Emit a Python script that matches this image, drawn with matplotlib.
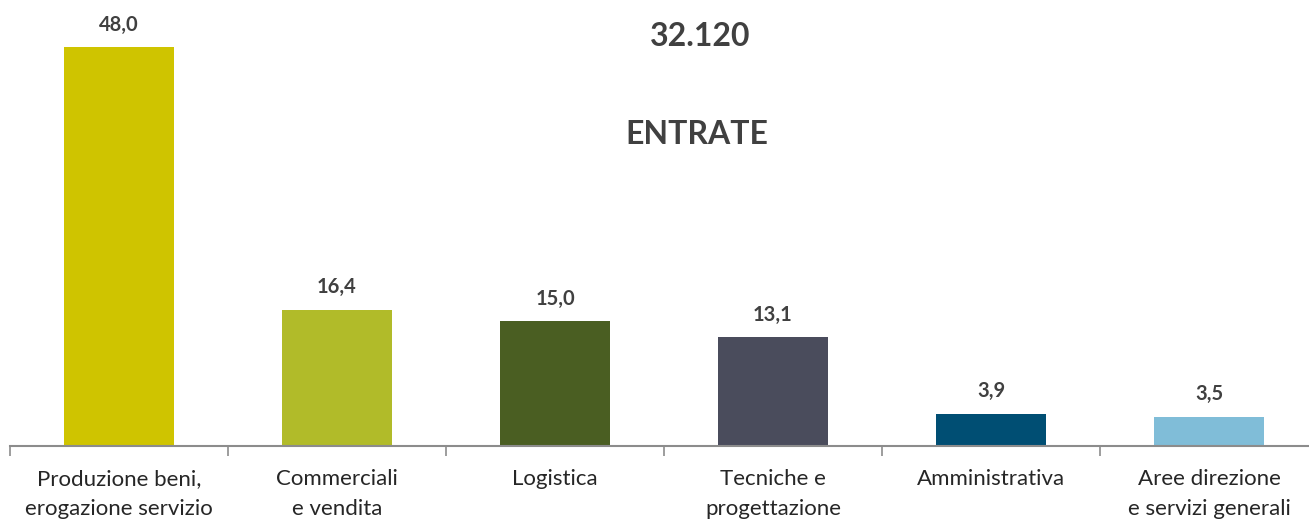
import matplotlib.pyplot as plt
import numpy as np
from matplotlib.ticker import FixedLocator

categories = ["Produzione beni,\nerogazione servizio", "Commerciali\ne vendita", "Logistica",
              "Tecniche e\nprogettazione", "Amministrativa", "Aree direzione\ne servizi generali"]
values = [48.0, 16.4, 15.0, 13.1, 3.9, 3.5]
colors = ["#CFC400", "#B1BB29", "#4A5E22", "#4A4C5C", "#004E73", "#80BDD8"]
total_label = "32.120"
subtitle = "ENTRATE"

plt.rcParams['font.family'] = ['Lato', 'DejaVu Sans']

fig = plt.figure(figsize=(13.09, 5.20), dpi=100)
# axis spans beyond the right edge like the original
ax = fig.add_axes([10 / 1309, 74 / 520, 1308 / 1309, 446 / 520])

x = np.arange(len(values))
ax.bar(x, values, width=0.505, color=colors)
ax.set_xlim(-0.5, len(values) - 0.5)
ax.set_ylim(0, 446 / 8.31)

for xi, v in zip(x, values):
    ax.annotate(f"{v:.1f}".replace(".", ","), (xi, v), xytext=(0, 9), textcoords="offset points",
                ha="center", va="bottom", fontsize=14.5, fontweight="bold", color="#404040")

ax.set_xticks(x)
ax.set_xticklabels(categories, fontsize=16, color="#262626", linespacing=1.65)
ax.xaxis.set_minor_locator(FixedLocator(np.arange(-0.5, len(values), 1)))
ax.tick_params(axis="x", which="major", length=0, pad=16.5)
ax.tick_params(axis="x", which="minor", length=7, width=1.2, color="#8C8C8C")
ax.set_yticks([])
for s in ["top", "right", "left"]:
    ax.spines[s].set_visible(False)
ax.spines["bottom"].set_color("#8C8C8C")
ax.spines["bottom"].set_linewidth(1.5)

fig.text(700 / 1309, 1 - 37 / 520, total_label, ha="center", va="center",
         fontsize=23, fontweight="bold", color="#404040")
fig.text(697 / 1309, 1 - 135 / 520, subtitle, ha="center", va="center",
         fontsize=23, fontweight="bold", color="#404040")

fig.savefig("out.png", dpi=100)
